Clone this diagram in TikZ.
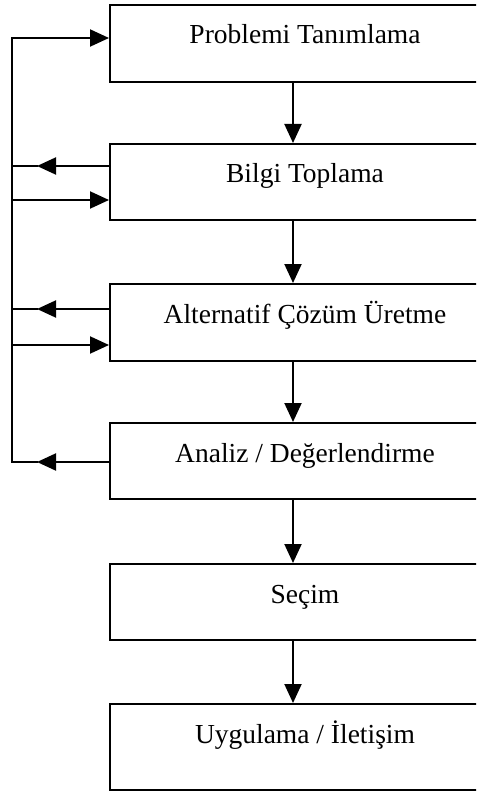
\documentclass[tikz,border=0pt]{standalone}
\usepackage{fontspec}
\setmainfont{Liberation Serif}
\usetikzlibrary{arrows.meta}
\begin{document}
\begin{tikzpicture}[x=1pt,y=-1pt,
  stage/.style={draw, line width=2pt, rectangle, inner sep=0pt,
    minimum width=390pt, text height=39pt, anchor=north,
    font=\fontsize{27.5}{31}\selectfont},
  flow/.style={line width=2pt, -{Triangle[length=19pt,width=17pt]}},
  wire/.style={line width=2pt, line cap=rect}]
\useasboundingbox (0,0) rectangle (476,794);
\clip (0,0) rectangle (476,794);

% process stages
\node[stage, text depth=38pt] (b1) at (305,4)   {Problemi Tanımlama};
\node[stage, text depth=37pt] (b2) at (305,143) {Bilgi Toplama};
\node[stage, text depth=38pt] (b3) at (305,283) {Alternatif Çözüm Üretme};
\node[stage, text depth=37pt] (b4) at (305,422) {Analiz / Değerlendirme};
\node[stage, text depth=37pt] (b5) at (305,563) {Seçim};
\node[stage, text depth=47pt] (b6) at (305,703) {Uygulama / İletişim};

% main downward flow
\coordinate (ax) at (293,0);
\draw[flow] (b1.south -| ax) -- (b2.north -| ax);
\draw[flow] (b2.south -| ax) -- (b3.north -| ax);
\draw[flow] (b3.south -| ax) -- (b4.north -| ax);
\draw[flow] (b4.south -| ax) -- (b5.north -| ax);
\draw[flow] (b5.south -| ax) -- (b6.north -| ax);

% feedback bus on the left
\coordinate (l1) at (12,38);
\coordinate (l6) at (12,462);
\coordinate (t2) at (37,166);
\coordinate (r2) at (12,200);
\coordinate (t3) at (37,309);
\coordinate (r3) at (12,345);
\coordinate (t4) at (37,462);

\draw[wire] (t4) -- (l6) -- (l1);
\draw[flow] (l1) -- (b1.west |- l1);

\draw[flow] (b2.west |- t2) -- (t2);
\draw[wire] (t2) -- (t2 -| l1);
\draw[flow] (r2) -- (b2.west |- r2);

\draw[flow] (b3.west |- t3) -- (t3);
\draw[wire] (t3) -- (t3 -| l1);
\draw[flow] (r3) -- (b3.west |- r3);

\draw[flow] (b4.west |- t4) -- (t4);
\end{tikzpicture}
\end{document}
